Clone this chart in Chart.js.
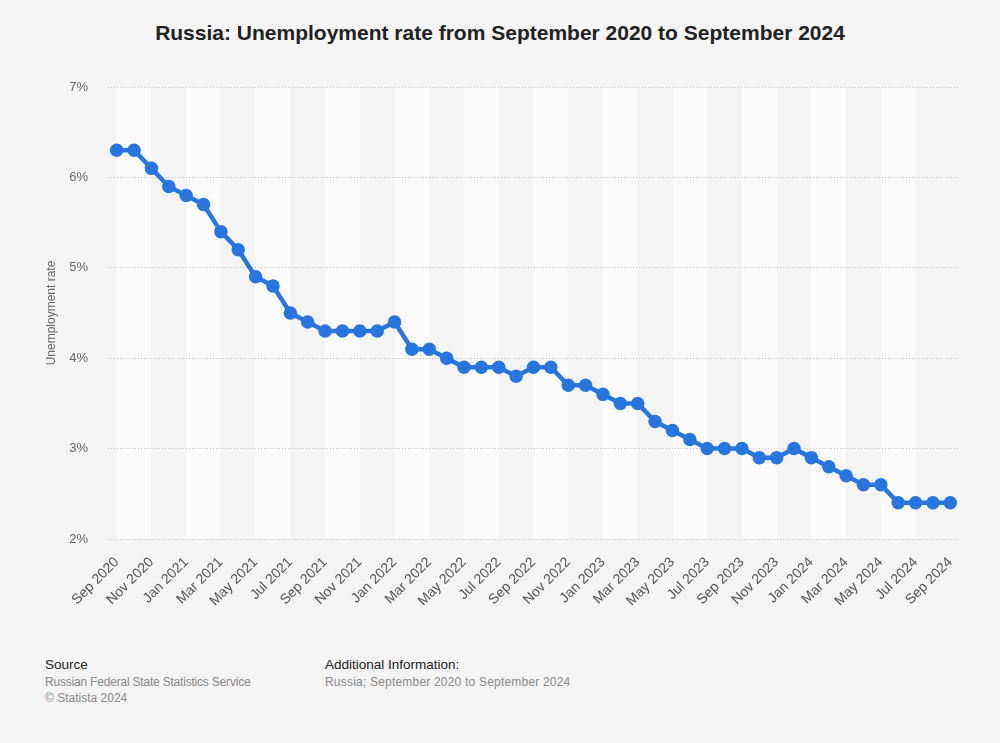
<!DOCTYPE html>
<html>
<head>
<meta charset="utf-8">
<script src="https://cdn.jsdelivr.net/npm/chart.js@4"></script>
<style>
  body { margin: 0; background: #f4f4f4; font-family: "Liberation Sans", Arial, sans-serif; }
  #wrap { position: relative; width: 1000px; height: 743px; overflow: hidden; }
  #title { position: absolute; top: 21px; left: 0; width: 1000px; text-align: center;
           font-size: 21px; font-weight: bold; color: #222; }
  canvas { position: absolute; top: 0; left: 0; }
  .foot { position: absolute; font-size: 12px; line-height: 16.5px; }
  .foot b { font-weight: normal; color: #222; font-size: 13.5px; }
  .foot span { color: #888; }
</style>
</head>
<body>
<div id="wrap">
  <div id="title">Russia: Unemployment rate from September 2020 to September 2024</div>
  <canvas id="c" width="1000" height="640"></canvas>
  <div class="foot" style="left:45px; top:657px;"><b>Source</b><br><span style="letter-spacing:-0.2px">Russian Federal State Statistics Service</span><br><span>© Statista 2024</span></div>
  <div class="foot" style="left:325px; top:657px;"><b>Additional Information:</b><br><span style="letter-spacing:0.2px">Russia; September 2020 to September 2024</span></div>
</div>
<script>
// months Sep 2020 .. Sep 2024
const months = [
  "Sep 2020", "Oct 2020", "Nov 2020", "Dec 2020",
  "Jan 2021", "Feb 2021", "Mar 2021", "Apr 2021", "May 2021", "Jun 2021",
  "Jul 2021", "Aug 2021", "Sep 2021", "Oct 2021", "Nov 2021", "Dec 2021",
  "Jan 2022", "Feb 2022", "Mar 2022", "Apr 2022", "May 2022", "Jun 2022",
  "Jul 2022", "Aug 2022", "Sep 2022", "Oct 2022", "Nov 2022", "Dec 2022",
  "Jan 2023", "Feb 2023", "Mar 2023", "Apr 2023", "May 2023", "Jun 2023",
  "Jul 2023", "Aug 2023", "Sep 2023", "Oct 2023", "Nov 2023", "Dec 2023",
  "Jan 2024", "Feb 2024", "Mar 2024", "Apr 2024", "May 2024", "Jun 2024",
  "Jul 2024", "Aug 2024", "Sep 2024"
];

const unemployment = [
  6.3, 6.3, 6.1, 5.9,
  5.8, 5.7, 5.4, 5.2, 4.9, 4.8,
  4.5, 4.4, 4.3, 4.3, 4.3, 4.3,
  4.4, 4.1, 4.1, 4.0, 3.9, 3.9,
  3.9, 3.8, 3.9, 3.9, 3.7, 3.7,
  3.6, 3.5, 3.5, 3.3, 3.2, 3.1,
  3.0, 3.0, 3.0, 2.9, 2.9, 3.0,
  2.9, 2.8, 2.7, 2.6, 2.6, 2.4,
  2.4, 2.4, 2.4
];

const yTicks = [2, 3, 4, 5, 6, 7];

// alternating vertical bands, two months wide
const bands = {
  id: "bands",
  beforeDraw(chart) {
    const { ctx, chartArea } = chart;
    const x = chart.scales.x;
    ctx.save();
    for (let k = 0; k * 2 + 2 < months.length + 1; k++) {
      const x0 = x.getPixelForValue(k * 2);
      const x1 = x.getPixelForValue(Math.min(k * 2 + 2, months.length - 1));
      ctx.fillStyle = k % 2 === 0 ? "#fafafa" : "#f4f4f4";
      ctx.fillRect(x0, chartArea.top, x1 - x0, chartArea.bottom - chartArea.top);
    }
    ctx.restore();
  }
};

new Chart(document.getElementById("c"), {
  type: "line",
  data: {
    labels: months,
    datasets: [{
      label: "Unemployment rate",
      data: unemployment,
      borderColor: "#2876dd",
      backgroundColor: "#2876dd",
      borderWidth: 4.5,
      pointRadius: 4.5,
      pointHoverRadius: 4.5,
      tension: 0,
      clip: false
    }]
  },
  options: {
    responsive: false,
    animation: false,
    layout: { padding: { top: 87, left: 40, right: 41, bottom: 0 } },
    plugins: { legend: { display: false }, tooltip: { enabled: false } },
    scales: {
      x: {
        offset: true,
        grid: { display: false },
        border: { display: false },
        afterFit(s) { s.height = 101; },
        ticks: {
          autoSkip: false,
          maxRotation: 45,
          minRotation: 45,
          padding: 7,
          color: "#555",
          font: { family: "Liberation Sans", size: 14 },
          callback(v, i) { return i % 2 === 0 ? months[i] : ""; }
        }
      },
      y: {
        min: 2,
        max: 7,
        afterFit(s) { s.width = 68; },
        afterBuildTicks(s) { s.ticks = yTicks.map(v => ({ value: v })); },
        border: { display: false, dash: [1, 2] },
        grid: { color: "#c4c4c4", lineWidth: 1, drawTicks: false },
        title: { display: true, text: "Unemployment rate", color: "#666", padding: 4,
                 font: { family: "Liberation Sans", size: 12 } },
        ticks: {
          padding: 20,
          color: "#666",
          font: { family: "Liberation Sans", size: 13 },
          callback(v) { return v + "%"; }
        }
      }
    }
  },
  plugins: [bands]
});
</script>
</body>
</html>
